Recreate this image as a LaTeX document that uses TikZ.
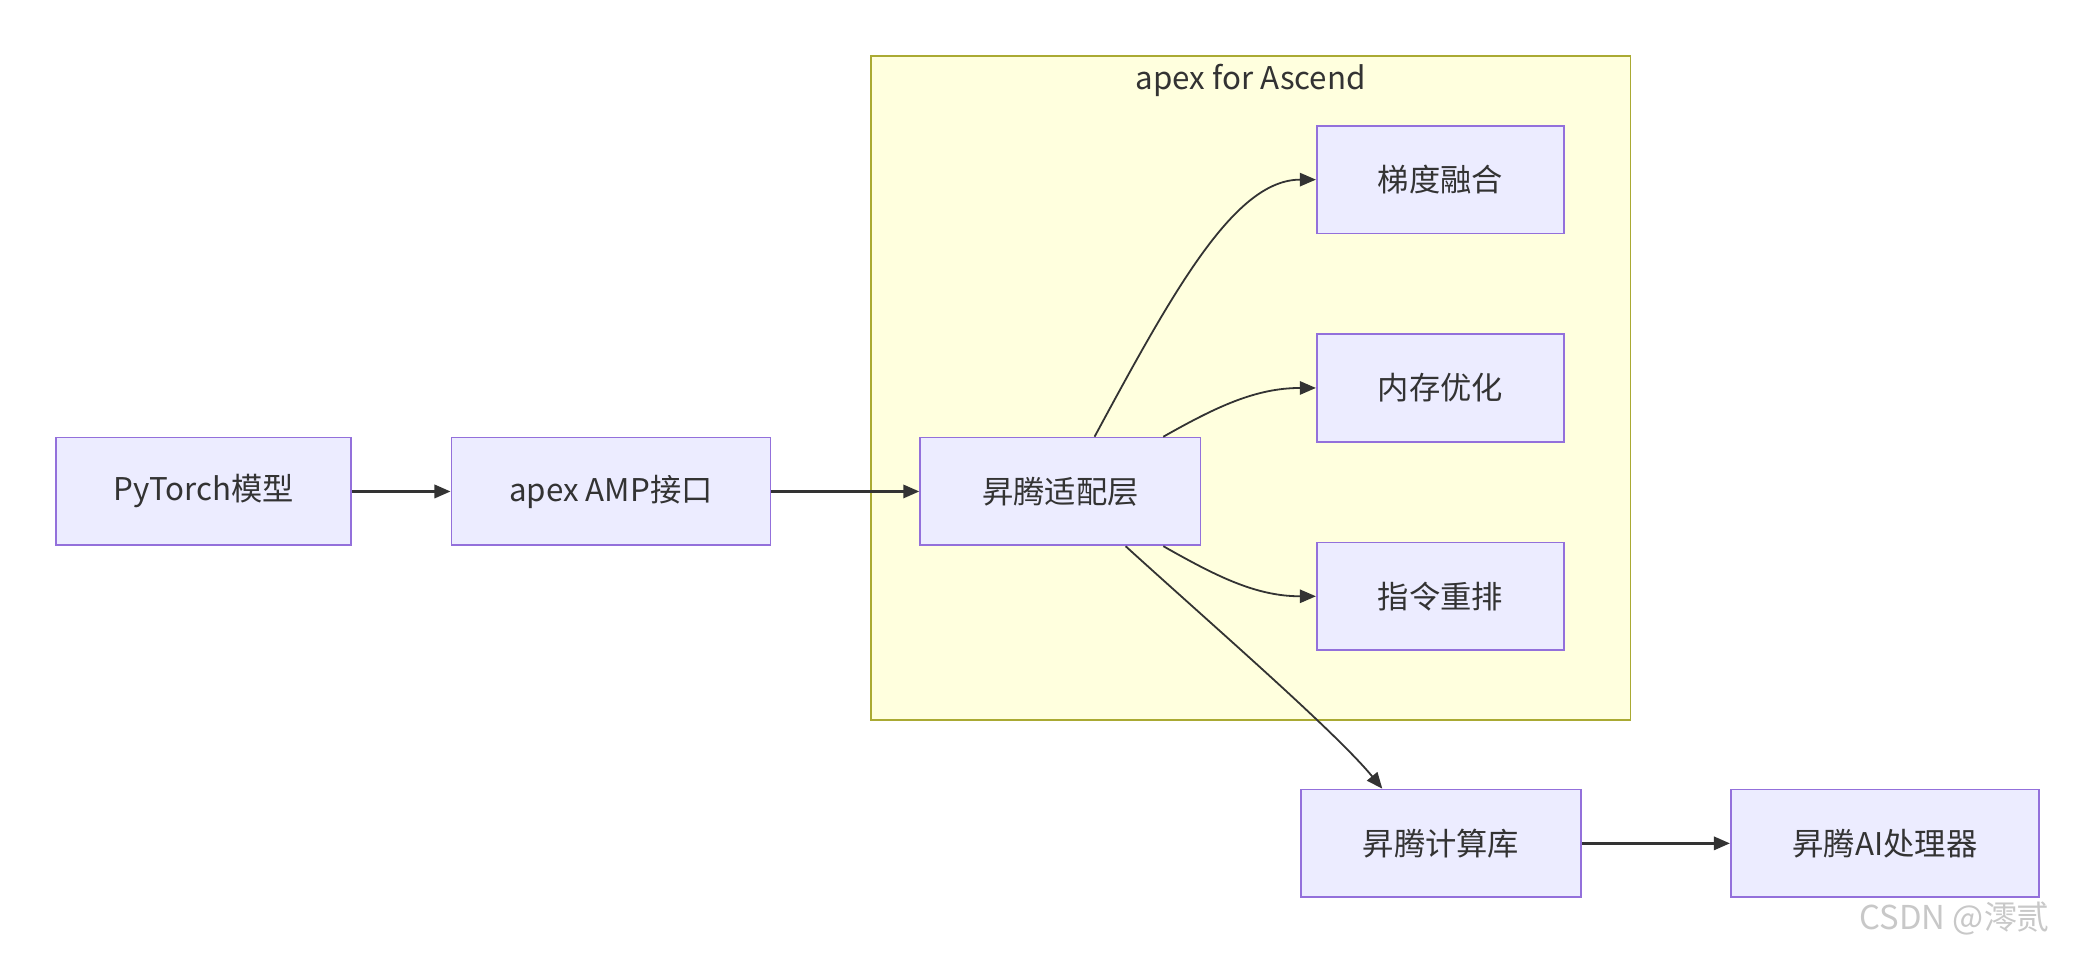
\documentclass[tikz,border=0pt]{standalone}
\usepackage{fontspec}
\setmainfont{Noto Sans CJK SC}
\usetikzlibrary{arrows.meta}
\definecolor{boxfill}{HTML}{ECECFF}
\definecolor{boxline}{HTML}{9370DB}
\definecolor{clusterfill}{HTML}{FFFFDE}
\definecolor{clusterline}{HTML}{AAAA33}
\definecolor{edgecol}{HTML}{333333}
\definecolor{txtcol}{HTML}{333333}
\definecolor{wmark}{HTML}{C8C8C8}
\tikzset{
  flowbox/.style={draw=boxline, fill=boxfill, line width=1.1pt, inner sep=0pt,
    minimum height=2.42cm, text=txtcol, font=\fontsize{20}{24}\selectfont},
  flowarrow/.style={draw=edgecol, line width=1.5pt, -{Triangle[length=0.36cm,width=0.3cm]}},
  curvearrow/.style={draw=edgecol, line width=1.15pt, -{Triangle[length=0.36cm,width=0.3cm]}},
}
\begin{document}
\begin{tikzpicture}[x=0.03cm, y=-0.03cm]
\useasboundingbox[fill=white] (0,0) rectangle (1568,714);
% cluster
\node[draw=clusterline, fill=clusterfill, line width=1.1pt, minimum width=17.07cm, minimum height=14.91cm, inner sep=0pt] (cluster) at (936.5,290.5) {};
\node[text=txtcol, font=\fontsize{20}{24}\selectfont] (ctitle) at (936.5,60) {apex for Ascend};
% nodes
\node[flowbox, minimum width=6.63cm] (torch) at (152.5,368) {PyTorch模型};
\node[flowbox, minimum width=7.17cm] (amp) at (457.5,368) {apex AMP接口};
\node[flowbox, minimum width=6.3cm] (adapt) at (794,368) {昇腾适配层};
\node[flowbox, minimum width=5.55cm] (grad) at (1078.5,134.5) {梯度融合};
\node[flowbox, minimum width=5.55cm] (mem) at (1078.5,290.5) {内存优化};
\node[flowbox, minimum width=5.55cm] (instr) at (1078.5,446.5) {指令重排};
\node[flowbox, minimum width=6.3cm] (lib) at (1079,631.5) {昇腾计算库};
\node[flowbox, minimum width=6.93cm] (npu) at (1411.5,631.5) {昇腾AI处理器};
% edges
\draw[flowarrow] (torch) -- (amp);
\draw[flowarrow] (amp) -- (adapt);
\draw[curvearrow] (adapt.58) .. controls (880,215) and (925,134.5) .. (grad.west);
\draw[curvearrow] (adapt.28) .. controls (910,305) and (940,290.5) .. (mem.west);
\draw[curvearrow] (adapt.-28) .. controls (910,431) and (940,446.5) .. (instr.west);
\draw[curvearrow] (adapt.-40) .. controls (910,470) and (1000,548) .. (lib.137);
\draw[flowarrow] (lib) -- (npu);
% watermark
\node[text=wmark, font=\fontsize{21}{24}\selectfont, anchor=east] (wm) at (1539,688) {CSDN @澪贰};
\end{tikzpicture}
\end{document}
